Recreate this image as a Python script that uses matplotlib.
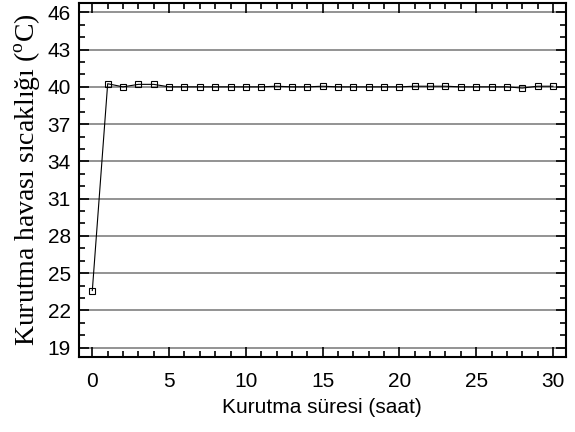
import numpy as np
import matplotlib
matplotlib.use("Agg")
import matplotlib.pyplot as plt
from matplotlib import ticker

# kurutma verisi
sure = list(range(0, 31))
sicaklik = [23.6, 40.25, 40.0, 40.2, 40.2, 40.0, 40.0, 40.0, 40.0, 40.0,
            40.0, 40.0, 40.05, 40.0, 40.0, 40.05, 40.0, 40.0, 40.0, 40.0,
            40.0, 40.05, 40.05, 40.05, 40.0, 40.0, 40.0, 40.0, 39.9, 40.05,
            40.05]
y_ticks = [19, 22, 25, 28, 31, 34, 37, 40, 43, 46]

plt.rcParams['mathtext.fontset'] = 'custom'
plt.rcParams['mathtext.rm'] = 'Liberation Serif'

fig = plt.figure(figsize=(5.75, 4.32), dpi=100)
ax = fig.add_axes([78.5/575, 1 - 357/432, (566 - 78.5)/575, (357 - 3)/432])

for t in y_ticks:
    ax.axhline(t, color='#808080', linewidth=1.2, zorder=1)

ax.plot(sure, sicaklik, color='black', linewidth=0.8, marker='s', markersize=5,
        markerfacecolor='none', markeredgecolor='black', markeredgewidth=0.8, zorder=3)

ax.set_xlim(-0.9, 30.85)
ax.set_ylim(18.25, 46.75)
ax.set_xticks([0, 5, 10, 15, 20, 25, 30])
ax.set_yticks(y_ticks)
ax.xaxis.set_minor_locator(ticker.MultipleLocator(1))
ax.yaxis.set_minor_locator(ticker.MultipleLocator(1))
ax.tick_params(which='both', direction='in', top=True, right=True, width=1.2)
ax.tick_params(which='major', length=7)
ax.tick_params(which='minor', length=4)
ax.tick_params(axis='x', which='major', pad=11)
ax.tick_params(axis='y', which='major', pad=5.5)
for lab in ax.get_xticklabels() + ax.get_yticklabels():
    lab.set_family('Liberation Sans')
    lab.set_fontsize(15)
for s in ax.spines.values():
    s.set_linewidth(1.5)

ax.set_xlabel('Kurutma süresi (saat)', family='Liberation Sans', fontsize=15, labelpad=5)
ax.set_ylabel('Kurutma havası sıcaklığı ($^\\mathrm{o}$C)', family='Liberation Serif',
              fontsize=20, labelpad=3)

fig.savefig('out.png', dpi=100)
